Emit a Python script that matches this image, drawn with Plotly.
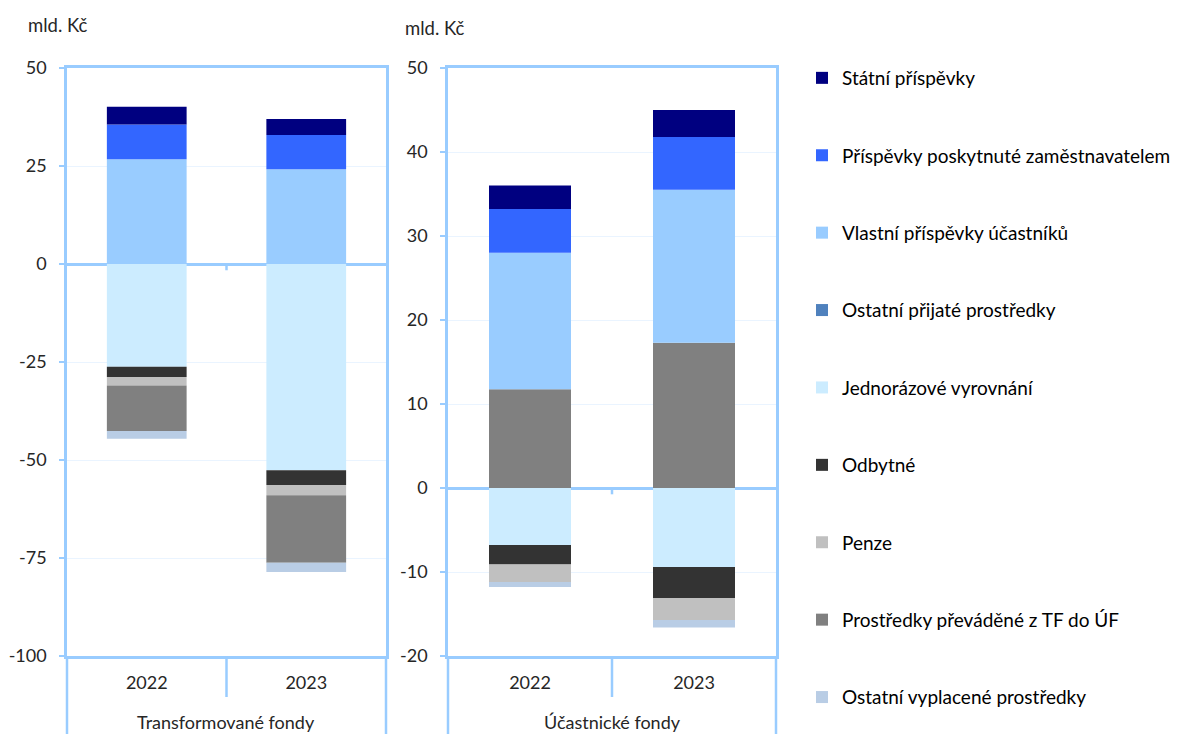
import plotly.graph_objects as go
from plotly.subplots import make_subplots

years = ["2022", "2023"]
unit_label = "mld. Kč"
group_labels = ["Transformované fondy", "Účastnické fondy"]

names = [
    "Státní příspěvky",
    "Příspěvky poskytnuté zaměstnavatelem",
    "Vlastní příspěvky účastníků",
    "Ostatní přijaté prostředky",
    "Jednorázové vyrovnání",
    "Odbytné",
    "Penze",
    "Prostředky převáděné z TF do ÚF",
    "Ostatní vyplacené prostředky",
]
colors = ["#000080", "#3366FF", "#99CCFF", "#4F81BD", "#CCECFF",
          "#333333", "#C0C0C0", "#808080", "#B9CDE5"]

# Transformované fondy (TF)
statni_tf = [4.5, 4.1]
zam_tf = [8.9, 8.7]
vlastni_tf = [26.7, 24.2]
ostatni_prij_tf = [0.0, 0.0]
jednoraz_tf = [-26.2, -52.6]
odbytne_tf = [-2.6, -3.8]
penze_tf = [-2.2, -2.6]
prevadene_tf = [-11.6, -17.2]
ostatni_vypl_tf = [-2.0, -2.4]

# Účastnické fondy (ÚF)
statni_uf = [2.8, 3.2]
zam_uf = [5.2, 6.3]
vlastni_uf = [16.25, 18.2]
ostatni_prij_uf = [0.0, 0.0]
jednoraz_uf = [-6.8, -9.4]
odbytne_uf = [-2.3, -3.7]
penze_uf = [-2.1, -2.6]
prevadene_uf = [11.75, 17.3]
ostatni_vypl_uf = [-0.6, -0.9]

# axis ticks
tf_ticks = [-100, -75, -50, -25, 0, 25, 50]
uf_ticks = [-20, -10, 0, 10, 20, 30, 40, 50]

tf_vals = [statni_tf, zam_tf, vlastni_tf, ostatni_prij_tf, jednoraz_tf,
           odbytne_tf, penze_tf, prevadene_tf, ostatni_vypl_tf]
uf_vals = [statni_uf, zam_uf, vlastni_uf, ostatni_prij_uf, jednoraz_uf,
           odbytne_uf, penze_uf, prevadene_uf, ostatni_vypl_uf]

# stacking order (index into names) per panel
tf_order = [3, 2, 1, 0, 4, 5, 6, 7, 8]
uf_order = [7, 3, 2, 1, 0, 4, 5, 6, 8]

OFF = 8  # default page body margin
W, H = 1185 - OFF, 734 - OFF
FONT = "Lato, 'Open Sans', sans-serif"
AXC = "#99CCFF"
TXT = "#262626"

fig = make_subplots(rows=1, cols=2)

for i in tf_order:
    fig.add_trace(go.Bar(x=years, y=tf_vals[i], name=names[i],
                         marker=dict(color=colors[i], line=dict(width=0)),
                         legendgroup=names[i], legendrank=i + 1,
                         showlegend=True), row=1, col=1)
for i in uf_order:
    fig.add_trace(go.Bar(x=years, y=uf_vals[i], name=names[i],
                         marker=dict(color=colors[i], line=dict(width=0)),
                         legendgroup=names[i], legendrank=i + 1,
                         showlegend=False), row=1, col=2)

def px_x(p):
    return (p - OFF) / W

def px_y(p):
    return (H - (p - OFF)) / H

ydom = [px_y(656), px_y(68)]
fig.update_layout(
    width=W, height=H,
    margin=dict(l=0, r=0, t=0, b=0, autoexpand=False),
    paper_bgcolor="white", plot_bgcolor="white",
    barmode="relative", bargap=0.5,
    font=dict(family=FONT, size=18, color=TXT),
    showlegend=True,
    legend=dict(x=px_x(802), y=px_y(59), xanchor="left", yanchor="top",
                traceorder="grouped", tracegroupgap=49.7,
                font=dict(family=FONT, size=19, color="#000000"),
                bgcolor="rgba(0,0,0,0)"),
    xaxis=dict(domain=[px_x(67), px_x(386)]),
    xaxis2=dict(domain=[px_x(448), px_x(776)]),
)

for ax in ["xaxis", "xaxis2"]:
    fig.layout[ax].update(type="category", showline=True, linecolor=AXC,
                          linewidth=3, mirror=True, showgrid=False,
                          ticks="", ticklabelstandoff=8,
                          tickfont=dict(family=FONT, size=18, color=TXT))

yaxes = [("yaxis", [-100, 50], tf_ticks), ("yaxis2", [-20, 50], uf_ticks)]
for ax, rng, tv in yaxes:
    fig.layout[ax].update(domain=ydom, range=rng, tickmode="array",
                          tickvals=tv, ticktext=[str(v) for v in tv],
                          showline=True,
                          linecolor=AXC, linewidth=2.5, mirror=True,
                          showgrid=True, gridcolor="#EAF4FF", gridwidth=1,
                          zeroline=True, zerolinecolor=AXC, zerolinewidth=3,
                          ticks="outside", ticklen=5, tickcolor=AXC,
                          tickwidth=2, ticklabelstandoff=9,
                          tickfont=dict(family=FONT, size=18, color=TXT))

# category separators below the axes
for xr, yr, zt in [("x domain", "y", -1.6), ("x2 domain", "y2", -0.75)]:
    fig.add_shape(type="line", xref=xr, yref="paper", x0=0.5, x1=0.5,
                  y0=px_y(656), y1=px_y(697), line=dict(color=AXC, width=2.5))
    for xe in (0, 1):
        fig.add_shape(type="line", xref=xr, yref="paper", x0=xe, x1=xe,
                      y0=px_y(656), y1=0, line=dict(color=AXC, width=2.5))
    fig.add_shape(type="line", xref=xr, yref=yr, x0=0.5, x1=0.5,
                  y0=0, y1=zt, line=dict(color=AXC, width=2.5))

# group labels
for xr, lab in [("x domain", group_labels[0]), ("x2 domain", group_labels[1])]:
    fig.add_annotation(xref=xr, yref="paper", x=0.5, y=px_y(722),
                       text=lab, showarrow=False, xanchor="center",
                       yanchor="middle",
                       font=dict(family=FONT, size=18, color=TXT))

# unit labels
fig.add_annotation(xref="paper", yref="paper", x=px_x(26), y=px_y(25),
                   text=unit_label, showarrow=False, xanchor="left",
                   yanchor="middle", font=dict(family=FONT, size=18.5, color=TXT))
fig.add_annotation(xref="paper", yref="paper", x=px_x(403), y=px_y(28),
                   text=unit_label, showarrow=False, xanchor="left",
                   yanchor="middle", font=dict(family=FONT, size=18.5, color=TXT))

fig.write_html("out.html")
